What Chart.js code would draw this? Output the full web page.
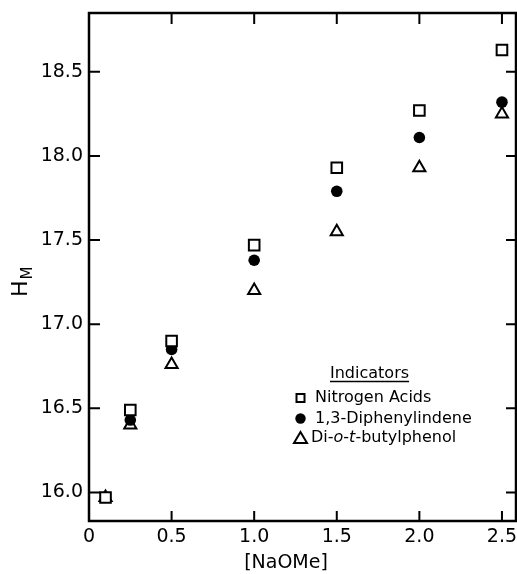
<!DOCTYPE html>
<html>
<head>
<meta charset="utf-8">
<script src="https://cdn.jsdelivr.net/npm/chart.js@4.4.0/dist/chart.umd.min.js"></script>
<style>
  html, body { margin: 0; padding: 0; background: #fff; }
  canvas { display: block; }
</style>
</head>
<body>
<canvas id="hmChart" width="517" height="574"></canvas>
<script>
// Data
const naome = [0.1, 0.25, 0.5, 1.0, 1.5, 2.0, 2.5];
const nitrogenAcids = [15.97, 16.49, 16.90, 17.47, 17.93, 18.27, 18.63];
const diphenylindene = [null, 16.43, 16.85, 17.38, 17.79, 18.11, 18.32];
const butylphenol = [15.97, 16.40, 16.76, 17.20, 17.55, 17.93, 18.25];

const xTicks = [0, 0.5, 1.0, 1.5, 2.0, 2.5];
const yTicks = [16.0, 16.5, 17.0, 17.5, 18.0, 18.5];

const FONT = 'DejaVu Sans';

function toPoints(ys) {
    return naome.map((x, i) => ({ x: x, y: ys[i] })).filter(p => p.y !== null);
}

// Frame with inward tick marks, axis titles and the legend box
const decorations = {
    id: 'decorations',
    beforeDatasetsDraw(chart) {
        const ctx = chart.ctx;
        const a = chart.chartArea;
        const xs = chart.scales.x;
        const ys = chart.scales.y;
        ctx.save();
        ctx.strokeStyle = '#000';
        ctx.lineWidth = 2.5;
        ctx.strokeRect(a.left, a.top, a.right - a.left, a.bottom - a.top);

        ctx.lineWidth = 2;
        ctx.beginPath();
        xTicks.forEach(v => {
            if (v === 0) return;
            const px = xs.getPixelForValue(v);
            ctx.moveTo(px, a.bottom);
            ctx.lineTo(px, a.bottom - 10);
            ctx.moveTo(px, a.top);
            ctx.lineTo(px, a.top + 11);
        });
        yTicks.forEach(v => {
            const py = ys.getPixelForValue(v);
            ctx.moveTo(a.left, py);
            ctx.lineTo(a.left + 11, py);
            ctx.moveTo(a.right, py);
            ctx.lineTo(a.right - 10, py);
        });
        ctx.stroke();
        ctx.restore();
    },
    afterDraw(chart) {
        const ctx = chart.ctx;
        ctx.save();
        ctx.fillStyle = '#000';
        ctx.strokeStyle = '#000';

        // y title: H with subscript M, rotated
        ctx.translate(27, 297);
        ctx.rotate(-Math.PI / 2);
        ctx.font = '22px "' + FONT + '"';
        ctx.textBaseline = 'alphabetic';
        ctx.fillText('H', 0, 0);
        const hw = ctx.measureText('H').width;
        ctx.font = '15px "' + FONT + '"';
        ctx.fillText('M', hw + 1, 5);
        ctx.setTransform(1, 0, 0, 1, 0, 0);

        // x title
        ctx.font = '19px "' + FONT + '"';
        ctx.textAlign = 'center';
        ctx.textBaseline = 'middle';
        ctx.fillText('[NaOMe]', 286, 563);

        // legend
        ctx.textAlign = 'left';
        ctx.font = '16px "' + FONT + '"';
        ctx.textBaseline = 'alphabetic';
        ctx.fillText('Indicators', 330, 378);
        const tw = ctx.measureText('Indicators').width;
        ctx.lineWidth = 1.5;
        ctx.beginPath();
        ctx.moveTo(330, 381.5);
        ctx.lineTo(330 + tw, 381.5);
        ctx.stroke();

        const mx = 300.5;
        const rows = [398, 418.5, 438];
        ctx.lineWidth = 2;
        ctx.strokeRect(mx - 4, rows[0] - 4, 8, 8);
        ctx.beginPath();
        ctx.arc(mx, rows[1], 5.2, 0, Math.PI * 2);
        ctx.fill();
        ctx.beginPath();
        ctx.moveTo(mx, rows[2] - 6);
        ctx.lineTo(mx + 6.5, rows[2] + 5);
        ctx.lineTo(mx - 6.5, rows[2] + 5);
        ctx.closePath();
        ctx.stroke();

        ctx.textBaseline = 'middle';
        ctx.fillText('Nitrogen Acids', 315, rows[0]);
        ctx.fillText('1,3-Diphenylindene', 315, rows[1]);

        // Di-o-t-butylphenol with italic o and t
        const parts = [['Di-', false], ['o', true], ['-', false], ['t', true], ['-butylphenol', false]];
        let tx = 311;
        parts.forEach(([s, it]) => {
            ctx.font = (it ? 'italic ' : '') + '16px "' + FONT + '"';
            ctx.fillText(s, tx, rows[2]);
            tx += ctx.measureText(s).width;
        });
        ctx.restore();
    }
};

const ctx = document.getElementById('hmChart').getContext('2d');
const hmChart = new Chart(ctx, {
    type: 'scatter',
    data: {
        datasets: [{
            label: 'Nitrogen Acids',
            data: toPoints(nitrogenAcids),
            pointStyle: 'rect',
            pointRadius: 7.5,
            borderWidth: 2,
            borderColor: '#000',
            backgroundColor: '#fff'
        }, {
            label: '1,3-Diphenylindene',
            data: toPoints(diphenylindene),
            pointStyle: 'circle',
            pointRadius: 5.8,
            borderWidth: 0,
            borderColor: '#000',
            backgroundColor: '#000'
        }, {
            label: 'Di-o-t-butylphenol',
            data: toPoints(butylphenol),
            pointStyle: 'triangle',
            pointRadius: 7,
            borderWidth: 2,
            borderColor: '#000',
            backgroundColor: 'rgba(255,255,255,0)'
        }]
    },
    options: {
        responsive: false,
        devicePixelRatio: 1,
        animation: false,
        layout: { autoPadding: false, padding: { top: 13, right: 1, left: 0, bottom: 0 } },
        plugins: {
            legend: { display: false },
            tooltip: { enabled: false }
        },
        scales: {
            x: {
                type: 'linear',
                min: 0,
                max: 2.585,
                grid: { display: false, drawTicks: false },
                border: { display: false },
                afterBuildTicks: function(scale) {
                    scale.ticks = xTicks.map(v => ({ value: v }));
                },
                afterFit: function(scale) {
                    scale.height = 53;
                    scale.paddingLeft = 0;
                    scale.paddingRight = 0;
                },
                ticks: {
                    padding: 5,
                    maxRotation: 0,
                    color: '#000',
                    font: { family: FONT, size: 19 },
                    callback: function(value) {
                        return value === 0 ? '0' : value.toFixed(1);
                    }
                }
            },
            y: {
                type: 'linear',
                min: 15.83,
                max: 18.85,
                grid: { display: false, drawTicks: false },
                border: { display: false },
                afterBuildTicks: function(scale) {
                    scale.ticks = yTicks.map(v => ({ value: v }));
                },
                afterFit: function(scale) {
                    scale.width = 89;
                    scale.paddingTop = 0;
                    scale.paddingBottom = 0;
                },
                ticks: {
                    padding: 6,
                    color: '#000',
                    font: { family: FONT, size: 19 },
                    callback: function(value) {
                        return value.toFixed(1);
                    }
                }
            }
        }
    },
    plugins: [decorations]
});
</script>
</body>
</html>
